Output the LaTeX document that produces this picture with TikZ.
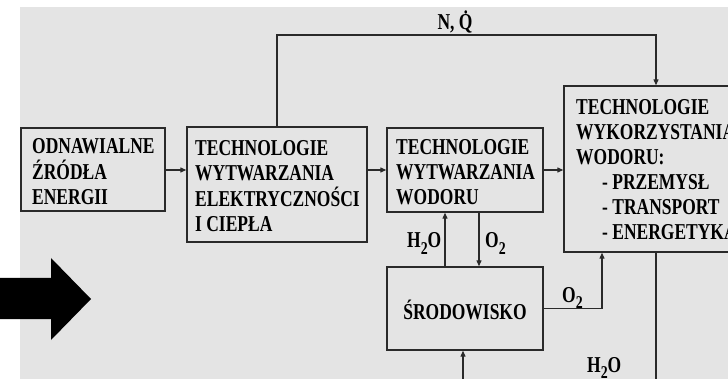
\documentclass[tikz,border=0pt]{standalone}
\usepackage{fontspec}
\newfontfamily\tnr{Liberation Serif}[FakeStretch=0.77]
\usetikzlibrary{arrows.meta}
\definecolor{bggray}{HTML}{E4E4E4}
\definecolor{ink}{HTML}{2A2A2A}
\newcommand\mysub[1]{\raisebox{-6.5pt}{\fontsize{18}{18}\selectfont #1}}
\tikzset{
  box/.style={draw=ink, line width=1.4pt, fill=bggray, inner sep=0, minimum width=#1},
  conn/.style={draw=ink, line width=1.2pt, -{Triangle[length=6pt,width=5pt]}},
  plain/.style={draw=ink, line width=1.2pt},
  txt/.style={font=\tnr\bfseries\fontsize{22.7}{25}\selectfont, inner sep=0, anchor=base west, text=black},
  lbl/.style={font=\tnr\bfseries\fontsize{22.7}{25}\selectfont, inner sep=0, anchor=base, text=black},
}
\begin{document}
\begin{tikzpicture}[x=1pt,y=-1pt]
\useasboundingbox (0,0) rectangle (728,379);
\clip (0,0) rectangle (728,379);
\fill[white] (0,0) rectangle (728,379);
\fill[bggray] (20,7) rectangle (728,379);

% boxes
\node[box=144pt, minimum height=83pt] (b1) at (93,169.5) {};
\node[box=180pt, minimum height=115pt] (b2) at (277,184.5) {};
\node[box=156pt, minimum height=84pt] (b3) at (465,170) {};
\node[box=196pt, minimum height=166pt] (b4) at (662,169) {};
\node[box=156pt, minimum height=83pt] (b5) at (465,308.5) {};

% texts
\node[txt] (t11) at (32,153.5) {ODNAWIALNE};
\node[txt] (t12) at (32,179.5) {ŹRÓDŁA};
\node[txt] (t13) at (32,204.5) {ENERGII};

\node[txt] (t21) at (195,155.5) {TECHNOLOGIE};
\node[txt] (t22) at (195,180.5) {WYTWARZANIA};
\node[txt] (t23) at (195,206.5) {ELEKTRYCZNOŚCI};
\node[txt] (t24) at (195,231.5) {I CIEPŁA};

\node[txt] (t31) at (396,154.5) {TECHNOLOGIE};
\node[txt] (t32) at (396,180) {WYTWARZANIA};
\node[txt] (t33) at (396,205) {WODORU};

\node[txt] (t41) at (576,114.5) {TECHNOLOGIE};
\node[txt] (t42) at (576,139.5) {WYKORZYSTANIA};
\node[txt] (t43) at (576,164.5) {WODORU:};
\node[txt] (t44) at (602,190) {- PRZEMYSŁ};
\node[txt] (t45) at (602,215) {- TRANSPORT};
\node[txt] (t46) at (602,240) {- ENERGETYKA};

\node[lbl] (t5) at (465,319.5) {ŚRODOWISKO};

% labels
\node[lbl] (nq) at (455,30) {N, \.{Q}};
\node[txt] (lh1) at (407,248) {H\mysub{2}O};
\node[txt] (lo1) at (485,248) {O\mysub{2}};
\node[txt] (lo2) at (562,302) {O\mysub{2}};
\node[txt] (lh2) at (587,372) {H\mysub{2}O};

% helper coordinates
\coordinate (xh) at (445,0);
\coordinate (xo) at (479,0);
\coordinate (xr) at (602,0);
\coordinate (xv) at (656,0);
\coordinate (xb) at (463,0);
\coordinate (yt) at (0,35);
\coordinate (yl) at (0,170);
\coordinate (ybot) at (0,390);

% connectors
\draw[conn] (b1.east |- yl) -- (b2.west |- yl);
\draw[conn] (b2.east |- yl) -- (b3.west |- yl);
\draw[conn] (b3.east |- yl) -- (b4.west |- yl);
\draw[conn] (b2.north) |- (xv |- yt) -- (b4.north -| xv);
\draw[conn] (b5.north -| xh) -- (b3.south -| xh);
\draw[conn] (b3.south -| xo) -- (b5.north -| xo);
\draw[conn] (b5.east) -| (b4.south -| xr);
\draw[plain] (b4.south -| xv) -- (xv |- ybot);
\draw[conn] (xb |- ybot) -- (b5.south -| xb);

% big arrow
\fill[black] (0,278) -- (51,278) -- (51,258) -- (91,299) -- (51,340) -- (51,319) -- (0,319) -- cycle;
\end{tikzpicture}
\end{document}
